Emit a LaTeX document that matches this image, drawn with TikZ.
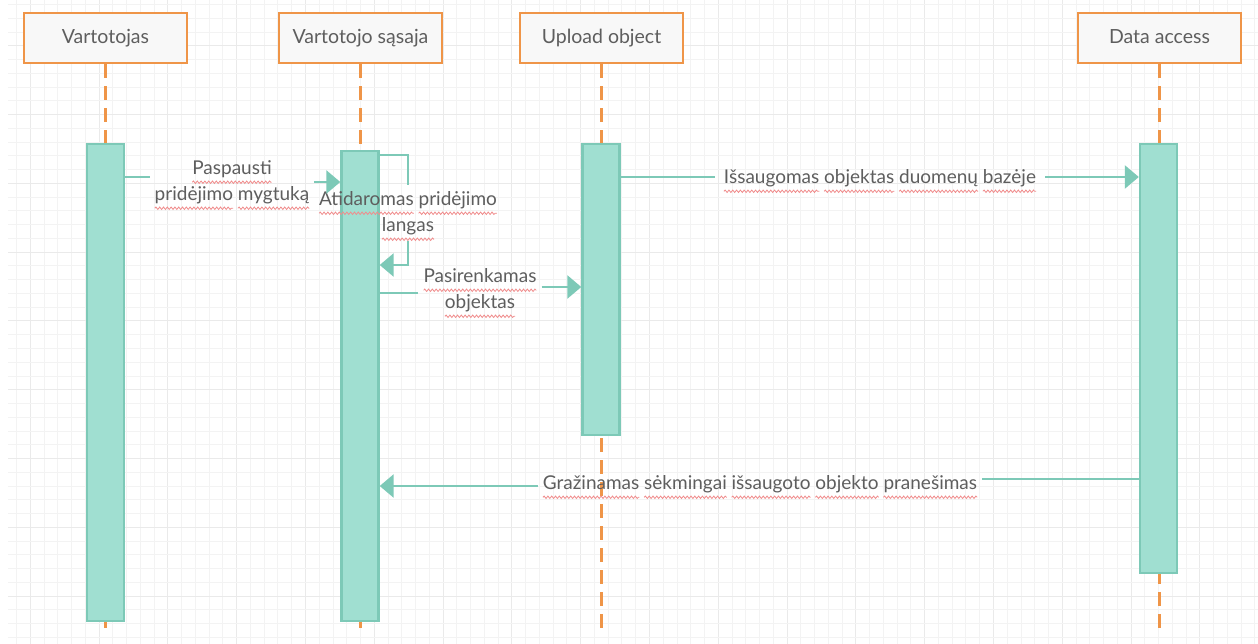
\documentclass[tikz,border=0pt]{standalone}
\usepackage{fontspec}
\setmainfont{Lato}
\usetikzlibrary{arrows.meta,decorations.pathmorphing}

\definecolor{boxline}{HTML}{EF9548}
\definecolor{boxfill}{HTML}{F8F8F8}
\definecolor{barfill}{HTML}{A0DFD1}
\definecolor{barline}{HTML}{7DC9B7}
\definecolor{msgcol}{HTML}{7DC9B7}
\definecolor{txt}{HTML}{5E5E5E}
\definecolor{gridminor}{HTML}{F3F3F3}
\definecolor{gridmajor}{HTML}{EAEAEA}
\definecolor{spell}{HTML}{F08C8C}

\tikzset{
  hdr/.style={draw=boxline, fill=boxfill, line width=2.6pt, minimum width=163pt,
    minimum height=50pt, inner sep=0pt, text=txt, text height=14pt, text depth=2pt,
    font=\fontsize{19.5}{27}\selectfont},
  lifeline/.style={draw=boxline, line width=2.6pt, dash pattern=on 14pt off 8pt},
  actbar/.style={draw=barline, fill=barfill, line width=2.4pt, minimum width=37pt, inner sep=0pt},
  msgline/.style={draw=msgcol, line width=2.6pt},
  msgarrow/.style={msgline, -{Triangle[length=14pt,width=23pt]}},
  lbl/.style={text=txt, align=center, inner xsep=5pt, inner ysep=2pt},
  wave/.style={draw=spell, line width=0.8pt, decorate,
    decoration={snake, amplitude=1.2pt, segment length=3.8pt}},
}

% word with a red wavy spell-check underline
\newcommand\sq[1]{\tikz[baseline=(w.base)]{\node[inner sep=0pt, outer sep=0pt, text=txt] (w) {#1};
  \draw[wave, overlay] ([yshift=-8pt]w.base west) -- ([yshift=-8pt]w.base east);}}

\begin{document}
\begin{tikzpicture}[x=1pt, y=-1pt, font=\fontsize{19}{26}\selectfont]
\useasboundingbox (0,0) rectangle (1258,644);
\fill[white] (0,0) rectangle (1258,644);

% background grid
\foreach \i in {0,...,90} {
  \pgfmathsetmacro\gx{16.54+13.76*\i}
  \pgfmathtruncatemacro\gm{mod(\i,5)}
  \ifnum\gm=1 \draw[gridmajor, line width=1pt] (\gx,0) -- (\gx,644);
  \else \draw[gridminor, line width=1pt] (\gx,0) -- (\gx,644); \fi
}
\foreach \j in {0,...,46} {
  \pgfmathsetmacro\gy{4.5+13.76*\j}
  \pgfmathtruncatemacro\gm{mod(\j,5)}
  \ifnum\gm=3 \draw[gridmajor, line width=1pt] (8,\gy) -- (1258,\gy);
  \else \draw[gridminor, line width=1pt] (8,\gy) -- (1258,\gy); \fi
}

% participants
\node[hdr] (h1) at (105.5,38) {Vartotojas};
\node[hdr] (h2) at (360.5,38) {Vartotojo sąsaja};
\node[hdr] (h3) at (601.5,38) {Upload object};
\node[hdr] (h4) at (1159.5,38) {Data access};

% lifelines
\coordinate (e1) at (105.5,632);
\coordinate (e2) at (360.5,632);
\coordinate (e3) at (601.5,632);
\coordinate (e4) at (1159.5,632);
\draw[lifeline] (h1.south) -- (e1);
\draw[lifeline] (h2.south) -- (e2);
\draw[lifeline] (h3.south) -- (e3);
\draw[lifeline] (h4.south) -- (e4);

% activation bars
\node[actbar, minimum height=477pt] (b1) at (105.5,382.5) {};
\node[actbar, minimum height=470pt] (b2) at (360,386) {};
\node[actbar, minimum height=291pt] (b3) at (601,289.5) {};
\node[actbar, minimum height=429pt] (b4) at (1158.5,358.5) {};

% message labels
\node[lbl] (m1) at (232,182) {\sq{Paspausti}\\\sq{pridėjimo} \sq{mygtuką}};
\node[lbl] (m2) at (408,213) {\sq{Atidaromas} \sq{pridėjimo}\\\sq{langas}};
\node[lbl] (m3) at (480,290) {\sq{Pasirenkamas}\\\sq{objektas}};
\node[lbl, inner xsep=9pt] (m4) at (880,178) {\sq{Išsaugomas} \sq{objektas} \sq{duomenų} \sq{bazėje}};
\node[lbl] (m5) at (760,484) {\sq{Gražinamas} \sq{sėkmingai} \sq{išsaugoto} \sq{objekto} \sq{pranešimas}};

% messages
\draw[msgline] (b1.east |- 0,177) -- (m1.west |- 0,177);
\draw[msgarrow] (m1.east |- 0,182) -- (b2.west |- 0,182);

\draw[msgline] (b2.east |- 0,155) -| ([yshift=4pt]m2.north);
\draw[msgarrow] ([yshift=-4pt]m2.south) |- (b2.east |- 0,265);

\draw[msgline] (b2.east |- 0,293) -- (m3.west |- 0,293);
\draw[msgarrow] (m3.east |- 0,287) -- (b3.west |- 0,287);

\draw[msgline] (b3.east |- 0,177) -- (m4.west |- 0,177);
\draw[msgarrow] (m4.east |- 0,177) -- (b4.west |- 0,177);

\draw[msgline] (b4.west |- 0,479) -- (m5.east |- 0,479);
\draw[msgarrow] (m5.west |- 0,486) -- (b2.east |- 0,486);
\end{tikzpicture}
\end{document}
